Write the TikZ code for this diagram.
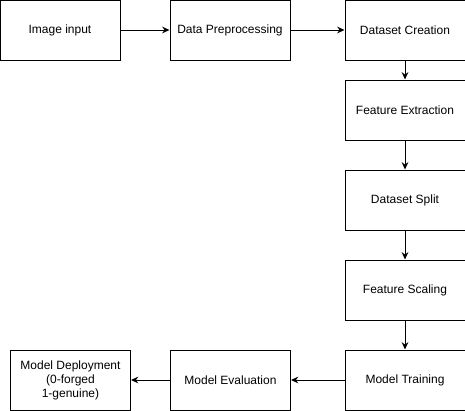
\documentclass[tikz,border=0pt]{standalone}
\usepackage{fontspec}
\setmainfont{Liberation Sans}
\usepackage{tikz}
\usetikzlibrary{shapes,arrows,arrows.meta}
\usetikzlibrary{positioning}
\tikzstyle{block} = [rectangle, draw, fill=white, line width=0.75pt,
    minimum width=90pt, minimum height=45pt, align=center, font=\fontsize{9}{10.5}\selectfont]
\tikzstyle{line} = [draw, line width=0.75pt, -{Stealth[length=5.5pt,width=5pt]}]

\begin{document}
\begin{tikzpicture}[x=0.75pt,y=-0.75pt]
    \useasboundingbox (0,0) rectangle (465,411);
    % Place nodes
    \node [block] (input) at (60,30) {Image input};
    \node [block, node distance=127.5pt, right of=input] (prep) {Data Preprocessing};
    \node [block, node distance=131.25pt, right of=prep] (create) {Dataset Creation};
    \node [block, node distance=60pt, below of=create] (extract) {Feature Extraction};
    \node [block, node distance=67.5pt, below of=extract] (split) {Dataset Split};
    \node [block, node distance=67.5pt, below of=split] (scale) {Feature Scaling};
    \node [block, node distance=67.5pt, below of=scale] (train) {Model Training};
    \node [block, node distance=130.9pt, left of=train] (eval) {Model Evaluation};
    \node [block, node distance=120pt, left of=eval] (deploy) {Model Deployment\\(0-forged\\1-genuine)};
    % Draw edges
    \path [line] (input) -- (prep);
    \path [line] (prep) -- (create);
    \path [line] (create) -- (extract);
    \path [line] (extract) -- (split);
    \path [line] (split) -- (scale);
    \path [line] (scale) -- (train);
    \path [line] (train) -- (eval);
    \path [line] (eval) -- (deploy);
\end{tikzpicture}
\end{document}
